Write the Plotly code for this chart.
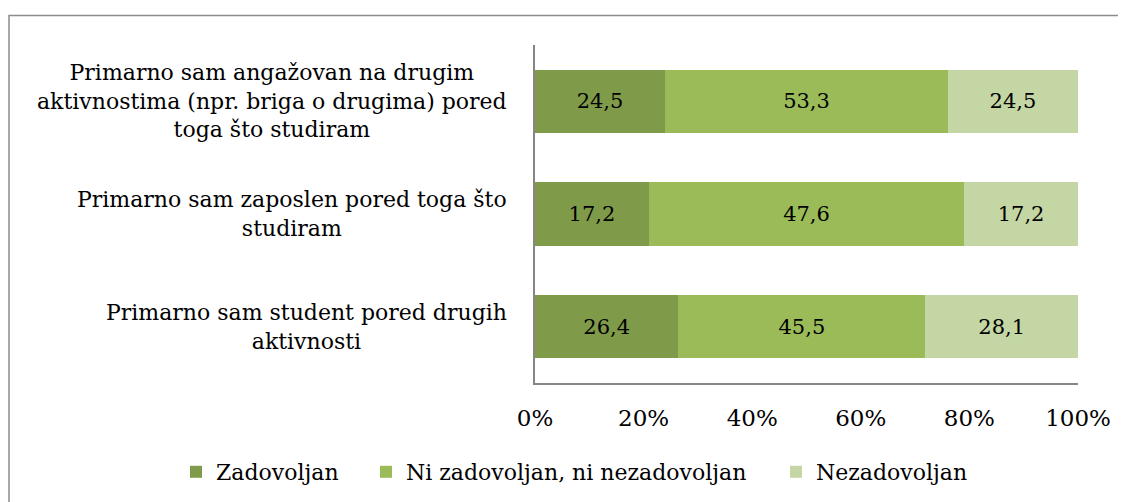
import plotly.graph_objects as go

categories = [
    "Primarno sam angažovan na drugim<br>aktivnostima (npr. briga o drugima) pored<br>toga što studiram",
    "Primarno sam zaposlen pored toga što<br>studiram",
    "Primarno sam student pored drugih<br>aktivnosti",
]
series_names = ["Zadovoljan", "Ni zadovoljan, ni nezadovoljan", "Nezadovoljan"]
zadovoljan = [24.5, 17.2, 26.4]
ni_ni = [53.3, 47.6, 45.5]
nezadovoljan = [24.5, 17.2, 28.1]
colors = ["#7F9B49", "#9BBB59", "#C4D6A3"]
tick_vals = [0, 20, 40, 60, 80, 100]
tick_text = ["0%", "20%", "40%", "60%", "80%", "100%"]

FONT = "DejaVu Serif"
# page body has an 8px margin; map screen px -> paper coords of the plot area
W0, W, H0, H = 535, 543, 45, 338


def px(sx):
    return (sx - W0) / W


def py(sy):
    return (H0 + H - sy) / H


legend_ids = ["legend", "legend2", "legend3"]
legend_left = [176, 366, 776]

fig = go.Figure()
for name, vals, col, lid in zip(series_names, [zadovoljan, ni_ni, nezadovoljan], colors, legend_ids):
    fig.add_trace(go.Bar(
        y=categories, x=vals, name=name, orientation="h", legend=lid,
        marker=dict(color=col, line=dict(width=0)),
        text=[f"{v:.1f}".replace(".", ",") for v in vals],
        textposition="inside", insidetextanchor="middle",
        textfont=dict(family=FONT, size=21, color="black"),
        hoverinfo="skip",
    ))

# category labels as centered annotations
for cat in categories:
    fig.add_annotation(
        x=px(509), xref="paper", y=cat, yref="y",
        text=cat, showarrow=False, xanchor="right", yanchor="middle",
        align="center", font=dict(family=FONT, size=22, color="black"),
    )

# chart border
fig.add_shape(type="rect", xref="paper", yref="paper",
              x0=px(9), x1=1.2, y0=-0.6, y1=py(15.5),
              line=dict(color="#8C8C8C", width=1.5), fillcolor="rgba(0,0,0,0)")

legend_cfg = {}
for lid, lx in zip(legend_ids, legend_left):
    legend_cfg[lid] = dict(orientation="h", x=px(lx), xanchor="left",
                           y=py(472), yanchor="middle",
                           font=dict(family=FONT, size=22, color="black"),
                           itemwidth=30, bgcolor="rgba(0,0,0,0)")

fig.update_layout(
    width=1118, height=494,
    margin=dict(l=527, r=48, t=37, b=119, autoexpand=False),
    barmode="stack", barnorm="percent", bargap=0.44,
    plot_bgcolor="white", paper_bgcolor="white",
    font=dict(family=FONT, size=22, color="black"),
    showlegend=True,
    uniformtext=dict(minsize=8, mode="show"),
    **legend_cfg,
)
fig.update_xaxes(range=[0, 100], tickvals=tick_vals, ticktext=tick_text,
                 showgrid=False, zeroline=False, showline=True,
                 linecolor="#868686", linewidth=1.5, ticks="",
                 ticklabelstandoff=14,
                 tickfont=dict(family=FONT, size=23, color="black"), fixedrange=True)
fig.update_yaxes(autorange="reversed", showticklabels=False, showgrid=False,
                 zeroline=False, showline=True, linecolor="#868686", linewidth=1.5,
                 ticks="", fixedrange=True)

fig.write_html("out.html")
